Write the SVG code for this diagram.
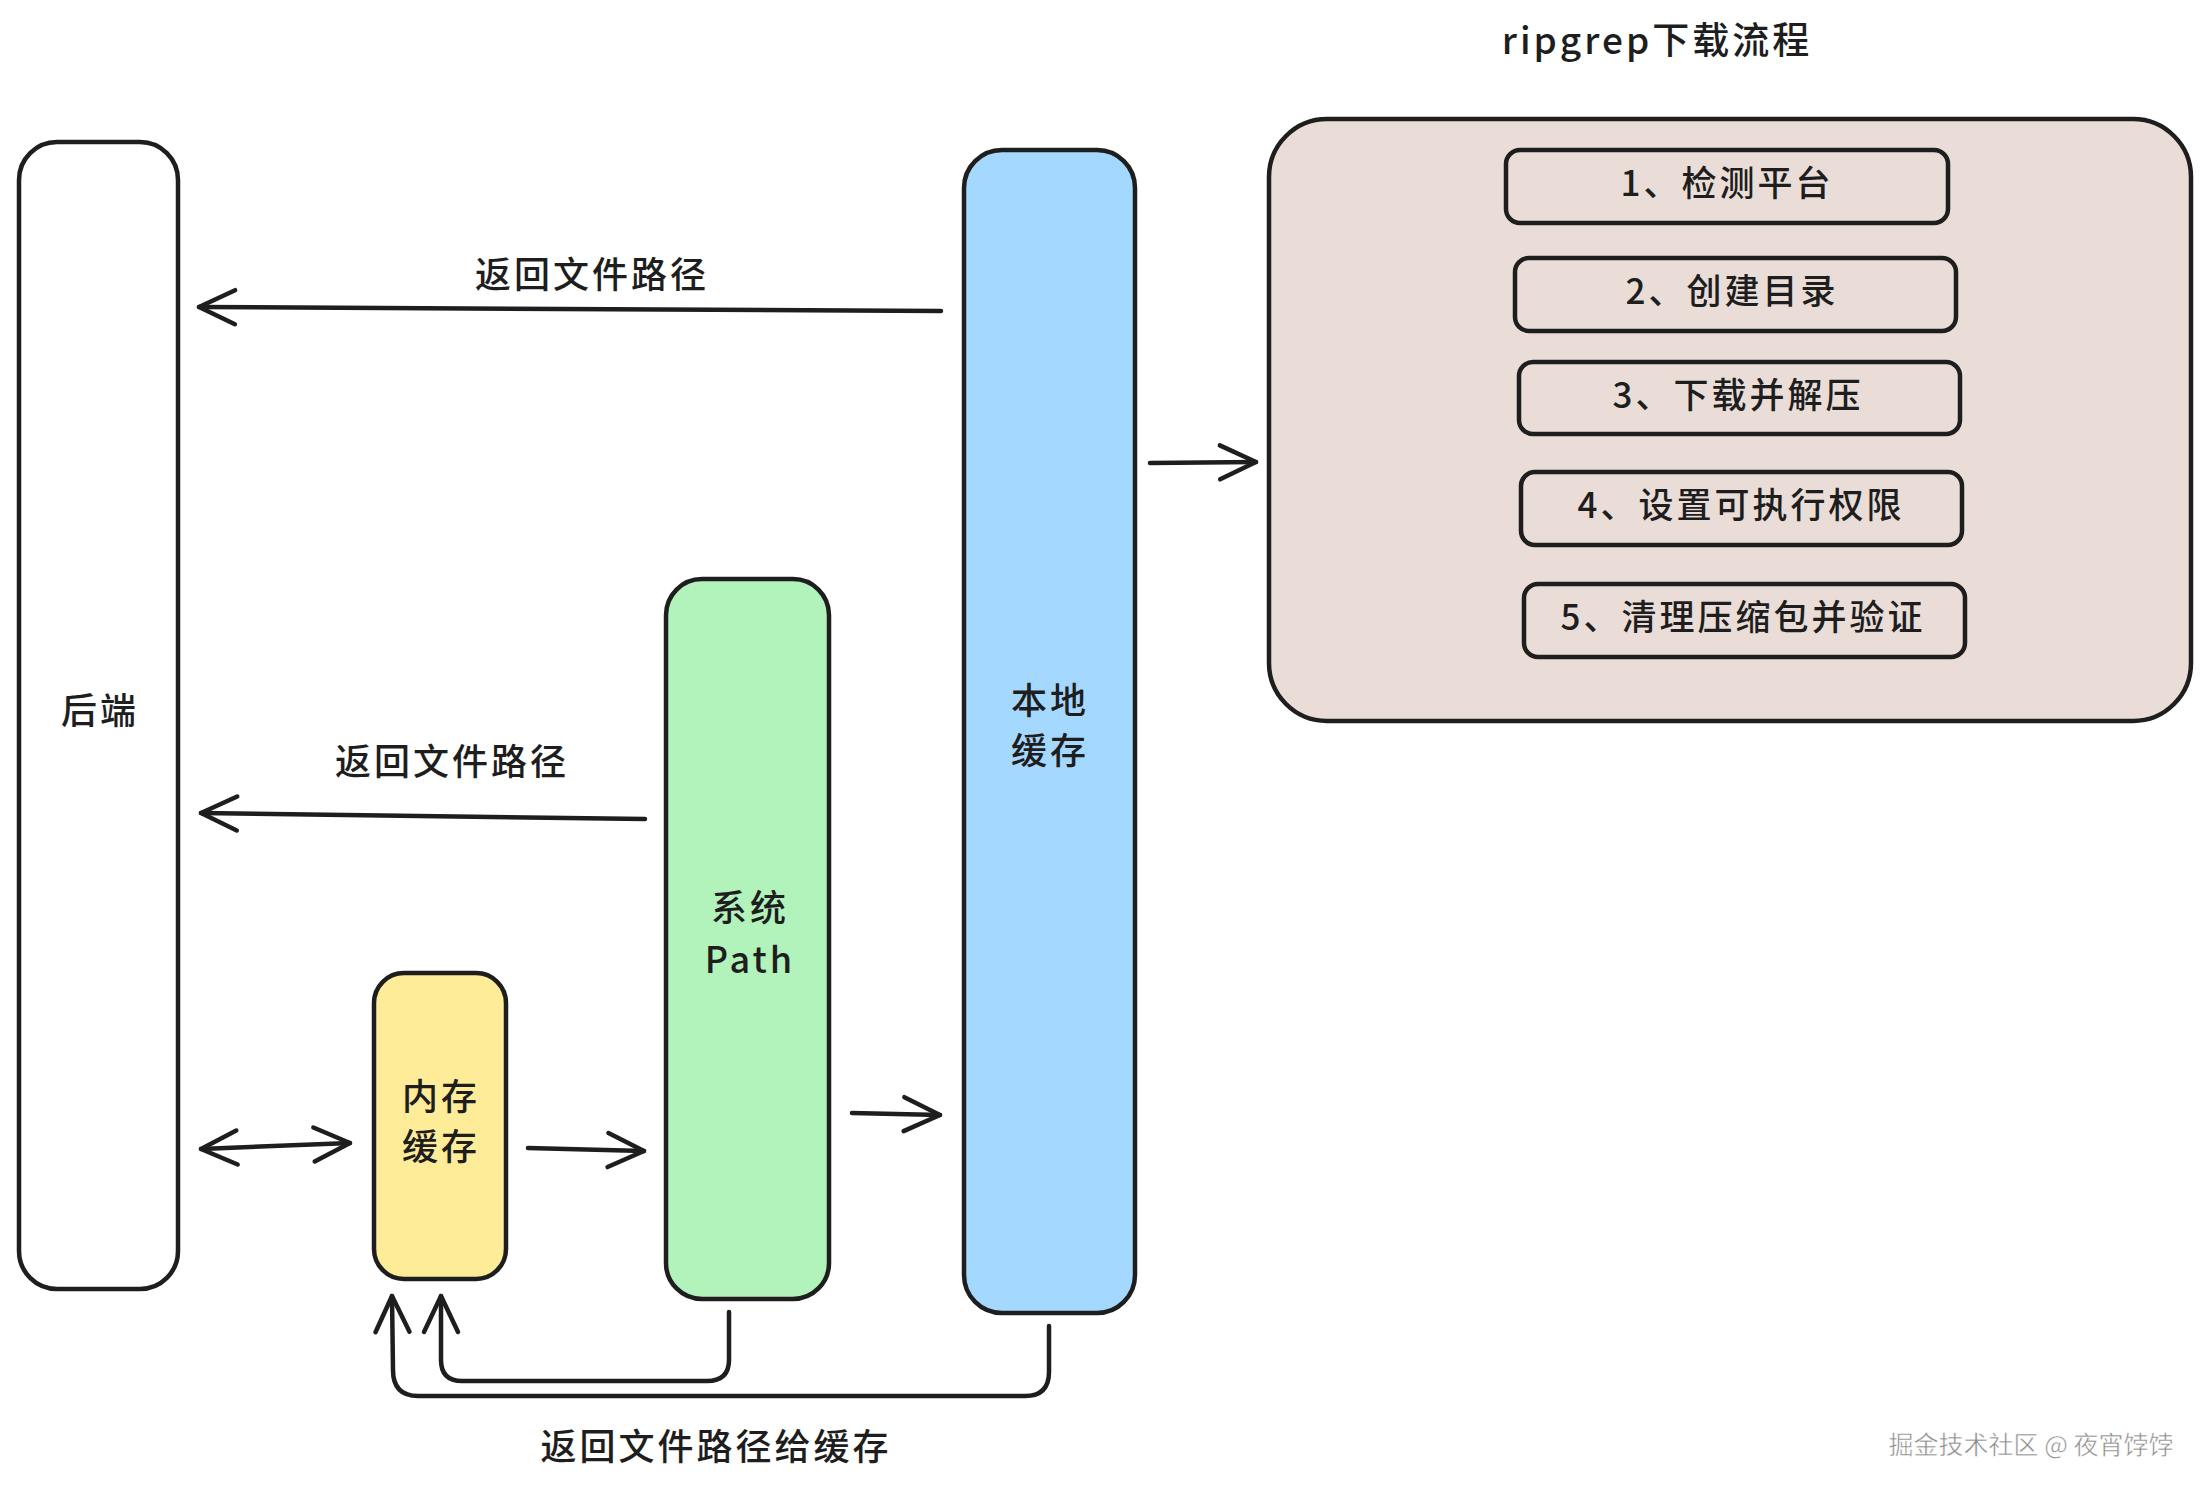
<svg xmlns="http://www.w3.org/2000/svg" width="2210" height="1497" viewBox="0 0 2210 1497">
<style>
.node{stroke:#1e1e1e;stroke-width:4.5;stroke-linejoin:round}
.t{font-family:"Noto Sans CJK SC","Liberation Sans",sans-serif;font-size:36px;font-weight:500;fill:#1e1e1e;text-anchor:middle;letter-spacing:3px}
.c{fill:none;stroke:#1e1e1e;stroke-width:4.5;stroke-linecap:round;stroke-linejoin:round}
.wm{font-family:"Noto Sans CJK SC",sans-serif;font-size:25px;fill:#8a8a8a;stroke:#ffffff;stroke-width:0.5;text-anchor:middle}
</style>
<defs>
<marker id="ah" viewBox="-42 -22 48 44" refX="0" refY="0" markerWidth="48" markerHeight="44" markerUnits="userSpaceOnUse" orient="auto-start-reverse">
<path d="M -36 -17 L 0 0 L -36 17" fill="none" stroke="#1e1e1e" stroke-width="4.5" stroke-linecap="round" stroke-linejoin="round"/>
</marker>
</defs>
<rect width="2210" height="1497" fill="#ffffff"/>
<text class="t" x="1657" y="54" style="font-size:37px">ripgrep下载流程</text>
<g id="download-steps">
<rect class="node" x="1269" y="119" width="922" height="602" rx="58" fill="#eaddd8"/>
<g id="step1"><rect class="node" x="1506" y="150" width="442" height="73" rx="14" fill="#eaddd8"/><text class="t" x="1727" y="196" style="font-size:35px">1、检测平台</text></g>
<g id="step2"><rect class="node" x="1515" y="258" width="441" height="73" rx="14" fill="#eaddd8"/><text class="t" x="1732" y="304" style="font-size:35px">2、创建目录</text></g>
<g id="step3"><rect class="node" x="1519" y="362" width="441" height="72" rx="14" fill="#eaddd8"/><text class="t" x="1738" y="408" style="font-size:35px">3、下载并解压</text></g>
<g id="step4"><rect class="node" x="1521" y="472" width="441" height="73" rx="14" fill="#eaddd8"/><text class="t" x="1741" y="518" style="font-size:35px">4、设置可执行权限</text></g>
<g id="step5"><rect class="node" x="1524" y="584" width="441" height="73" rx="14" fill="#eaddd8"/><text class="t" x="1743" y="630" style="font-size:35px">5、清理压缩包并验证</text></g>
</g>
<g id="backend"><rect class="node" x="19" y="142" width="159" height="1147" rx="38" fill="#ffffff"/><text class="t" x="100" y="724">后端</text></g>
<g id="local-cache"><rect class="node" x="964" y="150" width="171" height="1163" rx="38" fill="#a5d8ff"/><text class="t" x="1050" y="714">本地</text><text class="t" x="1050" y="764">缓存</text></g>
<g id="system-path"><rect class="node" x="666" y="579" width="163" height="720" rx="36" fill="#b2f2bb"/><text class="t" x="750" y="921">系统</text><text class="t" x="750" y="973">Path</text></g>
<g id="memory-cache"><rect class="node" x="374" y="973" width="132" height="306" rx="30" fill="#ffec99"/><text class="t" x="441" y="1110">内存</text><text class="t" x="441" y="1160">缓存</text></g>
<g id="connectors">
<path class="c" d="M 941 311 L 199 307" marker-end="url(#ah)"/>
<text class="t" x="592" y="288">返回文件路径</text>
<path class="c" d="M 645 819 L 201 813" marker-end="url(#ah)"/>
<text class="t" x="452" y="775">返回文件路径</text>
<path class="c" d="M 201 1149 L 350 1143" marker-start="url(#ah)" marker-end="url(#ah)"/>
<path class="c" d="M 528 1148 L 644 1151" marker-end="url(#ah)"/>
<path class="c" d="M 852 1113 L 940 1115" marker-end="url(#ah)"/>
<path class="c" d="M 1150 463 L 1256 462" marker-end="url(#ah)"/>
<path class="c" d="M 729 1312 L 729 1360 Q 729 1381 707 1381 L 462 1381 Q 441 1381 441 1360 L 441 1296" marker-end="url(#ah)"/>
<path class="c" d="M 1049 1326 L 1049 1372 Q 1049 1396 1025 1396 L 418 1396 Q 393 1396 393 1370 L 392 1296" marker-end="url(#ah)"/>
<text class="t" x="716" y="1460">返回文件路径给缓存</text>
</g>
<text class="wm" x="2031" y="1454">掘金技术社区 @ 夜宵饽饽</text>
</svg>
